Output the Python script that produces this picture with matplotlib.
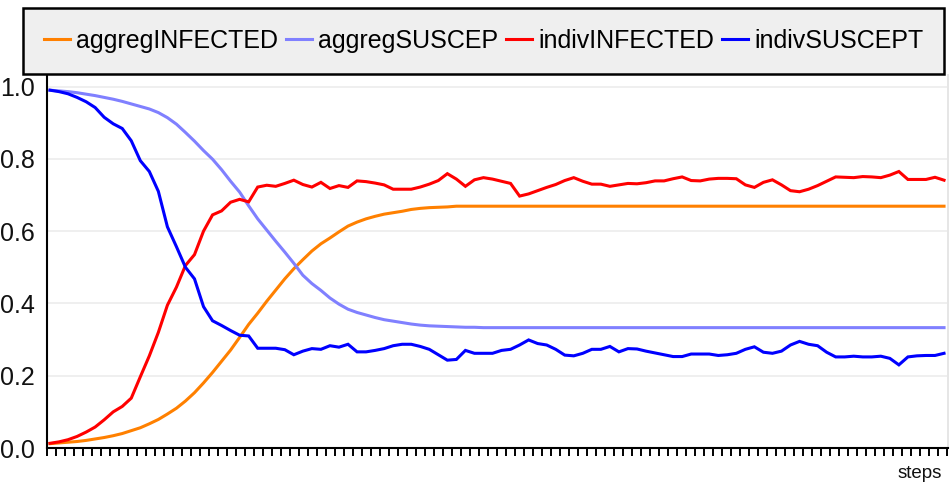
import numpy as np
import matplotlib
matplotlib.use('Agg')
import matplotlib.pyplot as plt

plt.rcParams['font.family'] = ['Liberation Sans', 'DejaVu Sans']

# model output per step
aggreg_infected = [
    0.012, 0.014, 0.016, 0.018, 0.021, 0.025, 0.029, 0.034, 0.040, 0.048,
    0.056, 0.067, 0.079, 0.094, 0.110, 0.130, 0.153, 0.180, 0.209, 0.240,
    0.271, 0.306, 0.342, 0.373, 0.406, 0.437, 0.468, 0.496, 0.521, 0.545,
    0.565, 0.581, 0.598, 0.614, 0.625, 0.634, 0.641, 0.647, 0.651, 0.655,
    0.660, 0.663, 0.665, 0.666, 0.667, 0.669, 0.669, 0.669, 0.669, 0.669,
    0.669, 0.669, 0.669, 0.669, 0.669, 0.669, 0.669, 0.669, 0.669, 0.669,
    0.669, 0.669, 0.669, 0.669, 0.669, 0.669, 0.669, 0.669, 0.669, 0.669,
    0.669, 0.669, 0.669, 0.669, 0.669, 0.669, 0.669, 0.669, 0.669, 0.669,
    0.669, 0.669, 0.669, 0.669, 0.669, 0.669, 0.669, 0.669, 0.669, 0.669,
    0.669, 0.669, 0.669, 0.669, 0.669, 0.669, 0.669, 0.669, 0.669, 0.669]
aggreg_suscep = [
    0.990, 0.988, 0.986, 0.983, 0.979, 0.975, 0.970, 0.965, 0.959, 0.952,
    0.945, 0.938, 0.928, 0.914, 0.896, 0.873, 0.849, 0.823, 0.799, 0.770,
    0.738, 0.708, 0.670, 0.634, 0.603, 0.572, 0.542, 0.511, 0.478, 0.455,
    0.436, 0.415, 0.398, 0.384, 0.375, 0.368, 0.361, 0.355, 0.351, 0.347,
    0.343, 0.340, 0.338, 0.337, 0.336, 0.335, 0.334, 0.334, 0.333, 0.333,
    0.333, 0.333, 0.333, 0.333, 0.333, 0.333, 0.333, 0.333, 0.333, 0.333,
    0.333, 0.333, 0.333, 0.333, 0.333, 0.333, 0.333, 0.333, 0.333, 0.333,
    0.333, 0.333, 0.333, 0.333, 0.333, 0.333, 0.333, 0.333, 0.333, 0.333,
    0.333, 0.333, 0.333, 0.333, 0.333, 0.333, 0.333, 0.333, 0.333, 0.333,
    0.333, 0.333, 0.333, 0.333, 0.333, 0.333, 0.333, 0.333, 0.333, 0.333]
indiv_infected = [
    0.013, 0.017, 0.023, 0.032, 0.044, 0.058, 0.078, 0.100, 0.115, 0.138,
    0.197, 0.255, 0.320, 0.395, 0.445, 0.505, 0.535, 0.600, 0.645, 0.656,
    0.680, 0.688, 0.681, 0.722, 0.727, 0.724, 0.732, 0.741, 0.729, 0.722,
    0.735, 0.718, 0.726, 0.721, 0.739, 0.737, 0.733, 0.728, 0.716, 0.716,
    0.716, 0.722, 0.730, 0.740, 0.759, 0.744, 0.724, 0.742, 0.748, 0.744,
    0.738, 0.732, 0.697, 0.703, 0.712, 0.721, 0.729, 0.740, 0.748, 0.738,
    0.730, 0.730, 0.724, 0.728, 0.732, 0.731, 0.734, 0.739, 0.739, 0.745,
    0.750, 0.740, 0.739, 0.744, 0.746, 0.746, 0.745, 0.728, 0.721, 0.735,
    0.742, 0.728, 0.712, 0.709, 0.716, 0.726, 0.738, 0.750, 0.749, 0.748,
    0.751, 0.750, 0.748, 0.755, 0.765, 0.743, 0.743, 0.743, 0.749, 0.741]
indiv_suscept = [
    0.990, 0.986, 0.980, 0.970, 0.958, 0.942, 0.915, 0.897, 0.884, 0.850,
    0.795, 0.765, 0.710, 0.612, 0.557, 0.500, 0.468, 0.391, 0.352, 0.339,
    0.325, 0.312, 0.310, 0.276, 0.276, 0.276, 0.272, 0.258, 0.268, 0.275,
    0.273, 0.283, 0.279, 0.287, 0.266, 0.266, 0.270, 0.275, 0.283, 0.287,
    0.287, 0.281, 0.273, 0.258, 0.243, 0.245, 0.270, 0.262, 0.262, 0.262,
    0.270, 0.273, 0.285, 0.299, 0.289, 0.285, 0.273, 0.257, 0.255, 0.262,
    0.273, 0.273, 0.281, 0.266, 0.275, 0.274, 0.268, 0.263, 0.258, 0.253,
    0.253, 0.260, 0.260, 0.260, 0.256, 0.258, 0.262, 0.273, 0.280, 0.265,
    0.262, 0.268, 0.285, 0.295, 0.287, 0.283, 0.265, 0.252, 0.252, 0.254,
    0.252, 0.252, 0.254, 0.248, 0.230, 0.252, 0.255, 0.256, 0.256, 0.262]

steps = np.arange(len(aggreg_infected))
series = [('aggregINFECTED', aggreg_infected, '#ff8000'),
          ('aggregSUSCEP', aggreg_suscep, '#8080ff'),
          ('indivINFECTED', indiv_infected, '#ff0000'),
          ('indivSUSCEPT', indiv_suscept, '#0000ff')]

W, H = 952, 488
fig = plt.figure(figsize=(W/100, H/100), dpi=100)
ax = fig.add_axes([47/W, 40/H, (948-47)/W, (448-75)/H])

for name, vals, col in series:
    ax.plot(steps, vals, color=col, lw=2.2, label=name, solid_joinstyle='miter')

ax.set_xlim(-0.332, 99.44)
ax.set_ylim(0, 1.032)
ax.set_xticks(np.arange(-0.332, 99.5, 0.9967))
ax.set_xticklabels([])
ax.tick_params(axis='x', direction='out', length=5.8, width=1.4, color='black')
ax.set_yticks([0, 0.2, 0.4, 0.6, 0.8, 1.0])
ax.set_yticklabels(['0.0', '0.2', '0.4', '0.6', '0.8', '1.0'])
ax.tick_params(axis='y', length=0, pad=8.6, labelsize=18, labelcolor='#111111')
ax.grid(axis='y', color='#ebebeb', lw=1.1)
ax.set_axisbelow(True)
ax.spines['top'].set_visible(False)
ax.spines['right'].set_color('#e6e6e6')
ax.spines['right'].set_linewidth(1.4)
ax.spines['left'].set_linewidth(1.5)
ax.spines['bottom'].set_linewidth(1.5)

leg = fig.legend(loc='upper left', bbox_to_anchor=(23/W, 1-8/H), ncol=4,
                 fontsize=18, handlelength=1.04, handletextpad=0.24,
                 columnspacing=0.32, borderpad=0.84, borderaxespad=0,
                 fancybox=False, edgecolor='black', facecolor='#efefef',
                 framealpha=1)
leg.get_frame().set_linewidth(1.8)
for h in leg.get_lines():
    h.set_linewidth(2.2)

fig.text(942/W, 1-473/H, 'steps', ha='right', va='center', fontsize=13.5,
         color='#111111')

fig.savefig('out.png', dpi=100)
